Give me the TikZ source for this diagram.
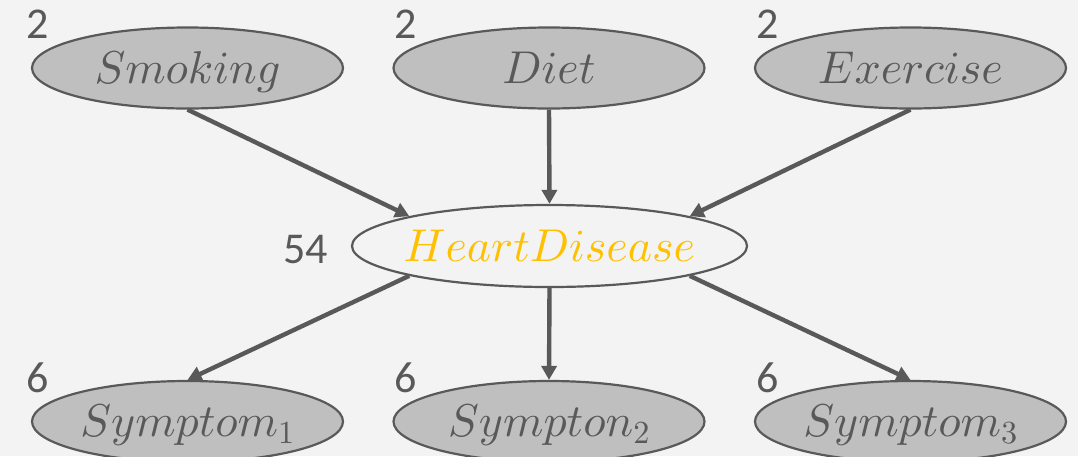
\documentclass[tikz,border=0pt]{standalone}
\usepackage{fontspec}
\DeclareFontFamily{OML}{cmm}{\skewchar\font'177}
\DeclareFontShape{OML}{cmm}{m}{it}{<->cmmi10}{}
\DeclareFontShape{OML}{cmm}{b}{it}{<->cmmib10}{}
\DeclareFontFamily{OT1}{cmr}{\hyphenchar\font45 }
\DeclareFontShape{OT1}{cmr}{m}{n}{<->cmr10}{}
\DeclareFontFamily{OMS}{cmsy}{\skewchar\font48 }
\DeclareFontShape{OMS}{cmsy}{m}{n}{<->cmsy10}{}
\newfontfamily\numfont{Carlito}
\usetikzlibrary{shapes.geometric,arrows.meta}
\definecolor{bgc}{HTML}{F3F3F3}
\definecolor{dgray}{HTML}{595959}
\definecolor{fillg}{HTML}{BFBFBF}
\definecolor{gold}{HTML}{FFC000}
\tikzset{
  var/.style={ellipse, draw=dgray, line width=2.2pt, fill=fillg, inner sep=0pt,
    inner xsep=-40pt, minimum width=311pt, minimum height=81pt, text=dgray,
    font=\fontsize{46}{50}\selectfont, text height=31pt, text depth=1pt},
  hub/.style={var, fill=bgc, text=gold, minimum width=395pt, minimum height=82pt},
  card/.style={anchor=base west, inner sep=0pt, text=dgray, font=\numfont\fontsize{44}{48}\selectfont},
  edge/.style={draw=dgray, line width=4.4pt, -{Triangle[length=14pt,width=15pt]}}
}
\begin{document}
\begin{tikzpicture}[x=1pt,y=-1pt]
\path[use as bounding box] (0,0) rectangle (1078,456);
\clip (0,0) rectangle (1078,456);
\fill[bgc] (0,0) rectangle (1078,456);

\node[var] (smoking) at (187.5,68) {$Smoking$};
\node[var] (diet) at (549,68) {$Diet$};
\node[var] (exercise) at (910.5,68) {$Exercise$};
\node[hub] (heart) at (549.5,246) {$HeartDisease$};
\node[var] (s1) at (187.5,421.5) {$Symptom_1$};
\node[var] (s2) at (549,421.5) {$Sympton_2$};
\node[var] (s3) at (910.5,421.5) {$Symptom_3$};

\node[card] (n1) at (26,38) {2};
\node[card] (n2) at (394,38) {2};
\node[card] (n3) at (756,38) {2};
\node[card] (n4) at (283,263) {54};
\node[card] (n5) at (26,392) {6};
\node[card] (n6) at (394,392) {6};
\node[card] (n7) at (756,392) {6};

\draw[edge] (smoking.south) -- (heart.168);
\draw[edge] (diet.south) -- (heart.north);
\draw[edge] (exercise.south) -- (heart.12);
\draw[edge] (heart.192) -- (s1.north);
\draw[edge] (heart.south) -- (s2.north);
\draw[edge] (heart.348) -- (s3.north);
\end{tikzpicture}
\end{document}
